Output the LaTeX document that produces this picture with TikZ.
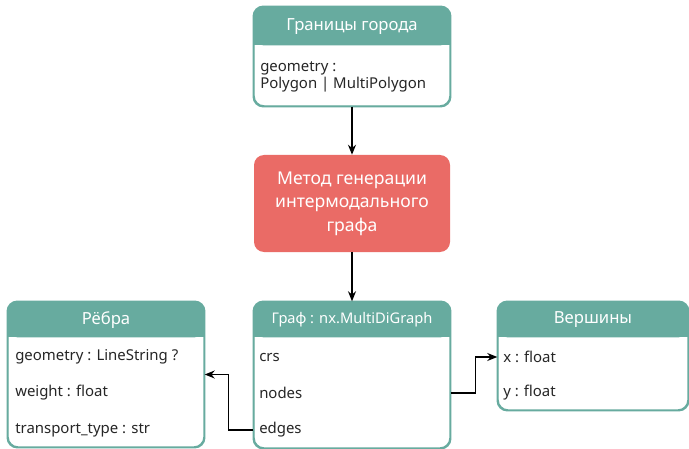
\documentclass[tikz,border=0pt]{standalone}
\usepackage{fontspec}
\setmainfont{Noto Sans}
\usetikzlibrary{arrows.meta,calc,fit}
\definecolor{hdr}{HTML}{67AB9F}
\definecolor{meth}{HTML}{EA6B66}
\begin{document}
\begin{tikzpicture}[x=0.75pt,y=-0.75pt,
  box/.style={draw=hdr, fill=white, line width=1.1pt, rounded corners=7.5pt, inner sep=0pt},
  methbox/.style={fill=meth, rounded corners=7.5pt, inner sep=0pt},
  title/.style={text=white, font=\fontsize{12.5}{15}\selectfont, inner sep=0pt},
  row/.style={anchor=west, font=\fontsize{11.2}{13}\selectfont, inner sep=0pt, text=black!85},
  arr/.style={-{Stealth[length=7.5pt,width=6pt]}, line width=0.9pt, black}
]
\useasboundingbox (0,0) rectangle (689,449);

% --- Top box
\node[box, fit={(254,7) (450,106)}] (top) {};
\fill[hdr, rounded corners=7.5pt] (top.north west) rectangle ($(top.north east)+(0,39)$);
\fill[hdr] ($(top.north west)+(0,20)$) rectangle ($(top.north east)+(0,39)$);
\draw[hdr, line width=1.1pt, rounded corners=7.5pt] (top.north west) rectangle (top.south east);
\node[title] (toptitle) at (352,26.5) {Границы города};
\node[row] (topgeom) at (260,68) {geometry :};
\node[row] (toppoly) at (260,85) {Polygon | MultiPolygon};

% --- Method box
\node[methbox, fit={(254,155) (450,252)}] (meth) {};
\node[title, align=center, font=\fontsize{13.2}{17.5}\selectfont] (methtext) at (meth.center) {Метод генерации\\интермодального\\графа};

% --- Graph box
\node[box, fit={(254,302) (450,448)}] (graph) {};
\fill[hdr, rounded corners=7.5pt] (graph.north west) rectangle ($(graph.north east)+(0,36)$);
\fill[hdr] ($(graph.north west)+(0,18)$) rectangle ($(graph.north east)+(0,36)$);
\draw[hdr, line width=1.1pt, rounded corners=7.5pt] (graph.north west) rectangle (graph.south east);
\node[title, font=\fontsize{11}{13}\selectfont] (graphtitle) at (352,320) {Граф : nx.MultiDiGraph};
\node[row] (crs) at (259,357) {crs};
\node[row] (nodes) at (259,393) {nodes};
\node[row] (edges) at (259,430) {edges};

% --- Edges box
\node[box, fit={(8,302) (204,447)}] (ribs) {};
\fill[hdr, rounded corners=7.5pt] (ribs.north west) rectangle ($(ribs.north east)+(0,36)$);
\fill[hdr] ($(ribs.north west)+(0,18)$) rectangle ($(ribs.north east)+(0,36)$);
\draw[hdr, line width=1.1pt, rounded corners=7.5pt] (ribs.north west) rectangle (ribs.south east);
\node[title] (ribstitle) at (106,320) {Рёбра};
\node[row] (rgeom) at (15,357) {geometry : LineString ?};
\node[row] (rweight) at (15,393) {weight : float};
\node[row] (rtype) at (15,430) {transport\_type : str};

% --- Vertices box
\node[box, fit={(498,302) (688,410)}] (vert) {};
\fill[hdr, rounded corners=7.5pt] (vert.north west) rectangle ($(vert.north east)+(0,36)$);
\fill[hdr] ($(vert.north west)+(0,18)$) rectangle ($(vert.north east)+(0,36)$);
\draw[hdr, line width=1.1pt, rounded corners=7.5pt] (vert.north west) rectangle (vert.south east);
\node[title] (verttitle) at (593,320) {Вершины};
\node[row] (vx) at (503,357) {x : float};
\node[row] (vy) at (503,393) {y : float};

% --- Connectors
\draw[arr] (top.south) -- (meth.north);
\draw[arr] (meth.south) -- (graph.north);
\draw[arr] (graph.east |- nodes.center) -- ++(25,0) |- (vert.west |- vx.center);
\draw[arr] (graph.west |- edges.center) -- ++(-25,0) |- (ribs.east);
\end{tikzpicture}
\end{document}
